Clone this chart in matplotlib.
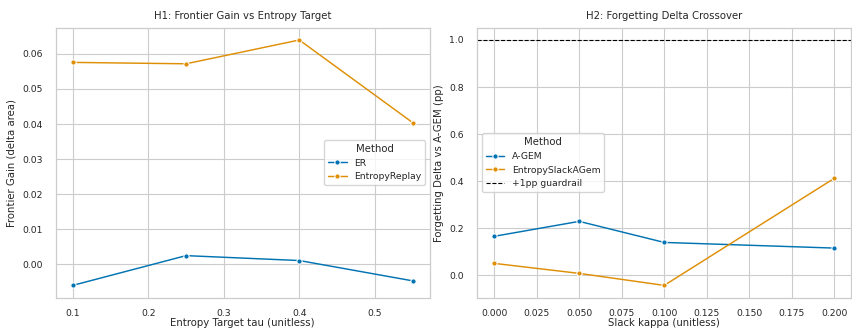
import numpy as np
import pandas as pd
import matplotlib
matplotlib.use("Agg")
import matplotlib.pyplot as plt
import seaborn as sns

# H1: frontier gain vs entropy target
TAU = [0.1, 0.25, 0.4, 0.55]
ER_GAIN = [-0.0061, 0.0024, 0.0010, -0.0048]
ENTROPY_REPLAY_GAIN = [0.0576, 0.0572, 0.0640, 0.0404]

# H2: forgetting delta vs slack
KAPPA = [0.0, 0.05, 0.1, 0.2]
AGEM_DELTA = [0.166, 0.2295, 0.140, 0.116]
SLACK_AGEM_DELTA = [0.051, 0.0085, -0.0425, 0.412]
GUARDRAIL = 1.0

sns.set_theme(
    style="whitegrid",
    palette="colorblind",
    font_scale=0.61,
    rc={
        "lines.linewidth": 1.05,
        "lines.markersize": 3.8,
        "grid.linewidth": 0.8,
        "axes.linewidth": 0.9,
        "xtick.major.pad": 2.5,
    },
)

h1 = pd.DataFrame({
    "tau": TAU * 2,
    "gain": ER_GAIN + ENTROPY_REPLAY_GAIN,
    "Method": ["ER"] * len(TAU) + ["EntropyReplay"] * len(TAU),
})
h2 = pd.DataFrame({
    "kappa": KAPPA * 2,
    "delta": AGEM_DELTA + SLACK_AGEM_DELTA,
    "Method": ["A-GEM"] * len(KAPPA) + ["EntropySlackAGem"] * len(KAPPA),
})

fig, (ax1, ax2) = plt.subplots(1, 2, figsize=(8.52, 3.30), dpi=100)
fig.subplots_adjust(left=0.0654, right=0.999, top=0.916, bottom=0.098, wspace=0.1274)

sns.lineplot(data=h1, x="tau", y="gain", hue="Method", marker="o", ax=ax1)
ax1.set_title("H1: Frontier Gain vs Entropy Target")
ax1.set_xlabel("Entropy Target tau (unitless)", labelpad=0)
ax1.set_ylabel("Frontier Gain (delta area)")
ax1.legend(title="Method", loc="center right")

sns.lineplot(data=h2, x="kappa", y="delta", hue="Method", marker="o", ax=ax2)
ax2.axhline(GUARDRAIL, color="black", linestyle="--", linewidth=0.8, label="+1pp guardrail")
ax2.set_title("H2: Forgetting Delta Crossover")
ax2.set_xlabel("Slack kappa (unitless)", labelpad=0)
ax2.set_ylabel("Forgetting Delta vs A-GEM (pp)")
ax2.legend(title="Method", loc="center left")

fig.savefig("out.png", dpi=100)
